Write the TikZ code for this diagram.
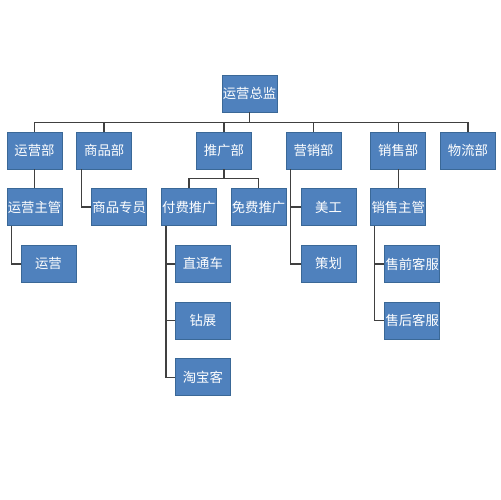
\documentclass[tikz,border=0pt]{standalone}
\usepackage{fontspec}
\newfontfamily\cjk{Noto Sans CJK SC}
\usetikzlibrary{positioning}
\definecolor{boxblue}{HTML}{4F81BD}
\definecolor{boxedge}{HTML}{3A6897}
\definecolor{linegray}{HTML}{404040}
\tikzset{
    %Define standard box of the chart
    dept/.style={
      rectangle,
      fill=boxblue,
      draw=boxedge, thin,
      text=white,
      font=\cjk\fontsize{7.6pt}{9pt}\selectfont,
      minimum width=1.1cm,
      minimum height=0.74cm,
      inner sep=0pt,
      text centered},
    conn/.style={
      draw=linegray,
      line width=0.8pt},
}

\begin{document}
\begin{tikzpicture}[x=0.02cm, y=0.02cm, node distance=3.8mm]
    \useasboundingbox (0,0) rectangle (500,-500);
    \node (zj) [dept] at (249.5,-93.5)
          {运营总监};
    % first row
    \node (yyb) [dept] at (34.5,-150.5)
          {运营部};
    \node (spb) [dept] [right=2.8mm of yyb]
          {商品部};
    \node (tgb) [dept] [right=12.8mm of spb]
          {推广部};
    \node (yxb) [dept] [right=6.8mm of tgb]
          {营销部};
    \node (xsb) [dept] [right=5.8mm of yxb]
          {销售部};
    \node (wlb) [dept] [right=2.8mm of xsb]
          {物流部};
    % second row
    \node (yyzg) [dept] [below=of yyb]
          {运营主管};
    \node (spzy) [dept] [below right=3.8mm and 3mm of spb.south west]
          {商品专员};
    \node (fftg) [dept] [below=of tgb, xshift=-7mm]
          {付费推广};
    \node (mftg) [dept] [right=2.8mm of fftg]
          {免费推广};
    \node (mg) [dept] [below right=3.8mm and 3mm of yxb.south west]
          {美工};
    \node (xszg) [dept] [below=of xsb]
          {销售主管};
    % third row and below
    \node (yy) [dept] [below right=3.8mm and 2.8mm of yyzg.south west]
          {运营};
    \node (ztc) [dept] [below right=3.8mm and 2.8mm of fftg.south west]
          {直通车};
    \node (zz) [dept] [below=of ztc]
          {钻展};
    \node (tbk) [dept] [below=of zz]
          {淘宝客};
    \node (ch) [dept] [below=of mg]
          {策划};
    \node (sqkf) [dept] [below right=3.8mm and 2.8mm of xszg.south west]
          {售前客服};
    \node (shkf) [dept] [below=of sqkf]
          {售后客服};
    % connectors
    \foreach \d in {yyb,spb,tgb,yxb,xsb,wlb}
      \draw[conn] (zj.south) -- ++(0,-10) -| (\d.north);
    \draw[conn] (yyb) -- (yyzg);
    \draw[conn] (xsb) -- (xszg);
    \draw[conn] (spb.south west) ++(5,0) |- (spzy.west);
    \draw[conn] (yyzg.south west) ++(5,0) |- (yy.west);
    \foreach \c in {fftg,mftg}
      \draw[conn] (tgb.south) -- ++(0,-9) -| (\c.north);
    \foreach \c in {ztc,zz,tbk}
      \draw[conn] (fftg.south west) ++(5,0) |- (\c.west);
    \foreach \c in {mg,ch}
      \draw[conn] (yxb.south west) ++(5,0) |- (\c.west);
    \foreach \c in {sqkf,shkf}
      \draw[conn] (xszg.south west) ++(4,0) |- (\c.west);
\end{tikzpicture}
\end{document}
